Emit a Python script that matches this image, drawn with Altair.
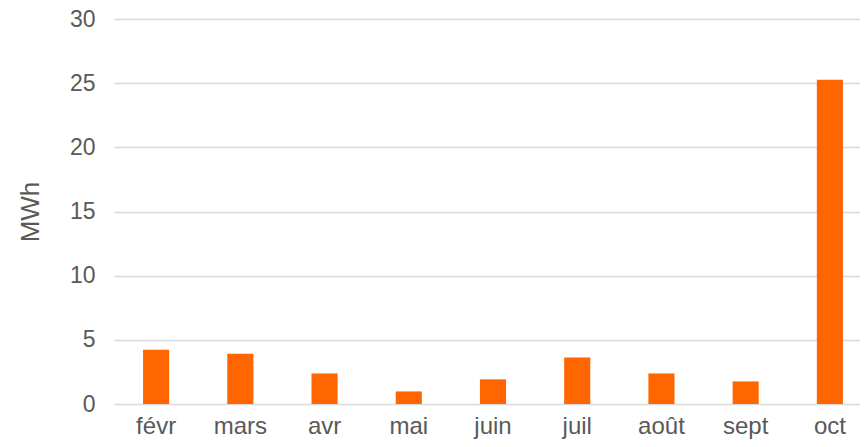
import altair as alt
import pandas as pd

months = ["févr", "mars", "avr", "mai", "juin", "juil", "août", "sept", "oct"]
mwh = [4.22, 3.92, 2.38, 0.98, 1.92, 3.62, 2.38, 1.76, 25.27]

df = pd.DataFrame({"mois": months, "MWh": mwh})

chart = alt.Chart(df).mark_bar(color="#FF6600").encode(
    x=alt.X("mois:N", sort=months, title=None,
            scale=alt.Scale(paddingInner=0.69, paddingOuter=0.345, range=[0, 758]),
            axis=alt.Axis(labelAngle=0, domain=False, ticks=False, labelPadding=10,
                          labelFont="Liberation Sans", labelFontSize=24, labelColor="#595959")),
    y=alt.Y("MWh:Q", title="MWh",
            scale=alt.Scale(domain=[0, 30]),
            axis=alt.Axis(values=[0, 5, 10, 15, 20, 25, 30], domain=False, ticks=False,
                          labelPadding=19, labelFont="Liberation Sans", labelFontSize=23,
                          labelColor="#595959", gridColor="#d9d9d9", gridWidth=1.5,
                          titleFont="Liberation Sans", titleFontSize=26, titleFontWeight="normal",
                          titleColor="#595959", titlePadding=26)),
).properties(
    width=746, height=385,
    autosize=alt.AutoSizeParams(type="none"),
    padding={"left": 106, "top": 11, "right": 0, "bottom": 35},
).configure_view(stroke=None)

chart.save("out.html", embed_options={"renderer": "svg", "actions": False})
